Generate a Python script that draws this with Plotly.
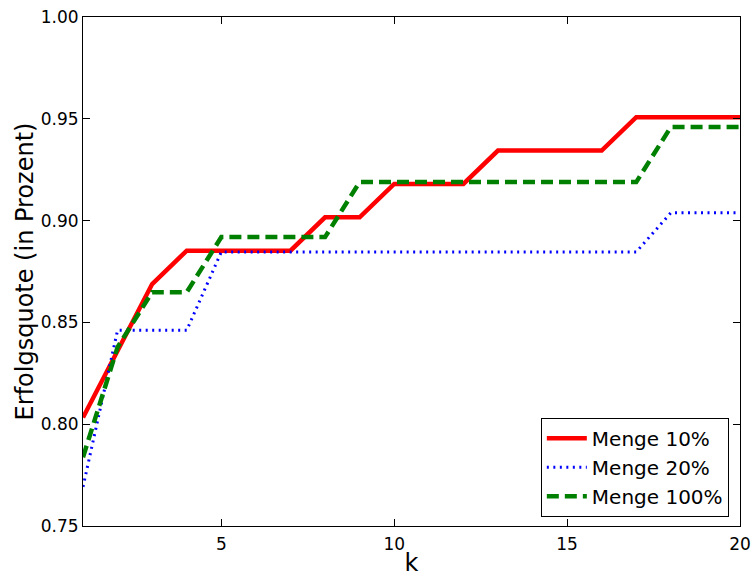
import plotly.graph_objects as go

k = list(range(1, 21))
menge10 = [49/61, 51/61, 53/61, 54/61, 54/61, 54/61, 54/61, 55/61, 55/61, 56/61,
           56/61, 56/61, 57/61, 57/61, 57/61, 57/61, 58/61, 58/61, 58/61, 58/61]
menge20 = [40/52, 44/52, 44/52, 44/52, 46/52, 46/52, 46/52, 46/52, 46/52, 46/52,
           46/52, 46/52, 46/52, 46/52, 46/52, 46/52, 46/52, 47/52, 47/52, 47/52]
menge100 = [29/37, 31/37, 32/37, 32/37, 33/37, 33/37, 33/37, 33/37, 34/37, 34/37,
            34/37, 34/37, 34/37, 34/37, 34/37, 34/37, 34/37, 35/37, 35/37, 35/37]
names = ["Menge 10%", "Menge 20%", "Menge 100%"]
xticks = [5, 10, 15, 20]
yticks = [0.75, 0.80, 0.85, 0.90, 0.95, 1.00]

fig = go.Figure()
fig.add_trace(go.Scatter(x=k, y=menge10, mode="lines", name=names[0],
                         line=dict(color="#ff0000", width=4.5)))
fig.add_trace(go.Scatter(x=k, y=menge20, mode="lines", name=names[1],
                         line=dict(color="#0000ff", width=3, dash="2px,4.5px")))
fig.add_trace(go.Scatter(x=k, y=menge100, mode="lines", name=names[2],
                         line=dict(color="#008000", width=4.5, dash="12px,6px")))

font = "DejaVu Sans"
fig.update_layout(
    width=752, height=577,
    margin=dict(l=83, r=12, t=17, b=51),
    paper_bgcolor="white", plot_bgcolor="white",
    font=dict(family=font, color="black", size=17),
    showlegend=True,
    legend=dict(x=0.983, y=0.018, xanchor="right", yanchor="bottom",
                bordercolor="black", borderwidth=1, bgcolor="white",
                font=dict(family=font, size=20), itemwidth=40,
                entrywidth=200, entrywidthmode="pixels",
                tracegroupgap=0),
)
fig.update_xaxes(range=[1, 20], tickvals=xticks, ticktext=[str(v) for v in xticks],
                 ticks="inside", ticklen=7, tickcolor="black", showline=True,
                 linecolor="black", linewidth=1, mirror="allticks", showgrid=False,
                 zeroline=False, tickfont=dict(size=17), automargin=False,
                 ticklabelstandoff=3,
                 title=dict(text="k", font=dict(size=24), standoff=9))
fig.update_yaxes(range=[0.75, 1.00], tickvals=yticks,
                 ticktext=[f"{v:.2f}" for v in yticks],
                 ticks="inside", ticklen=7, tickcolor="black", showline=True,
                 linecolor="black", linewidth=1, mirror="allticks", showgrid=False,
                 zeroline=False, tickfont=dict(size=17), automargin=False,
                 title=dict(text="Erfolgsquote (in Prozent)", font=dict(size=24), standoff=0))

fig.write_html("out.html")
